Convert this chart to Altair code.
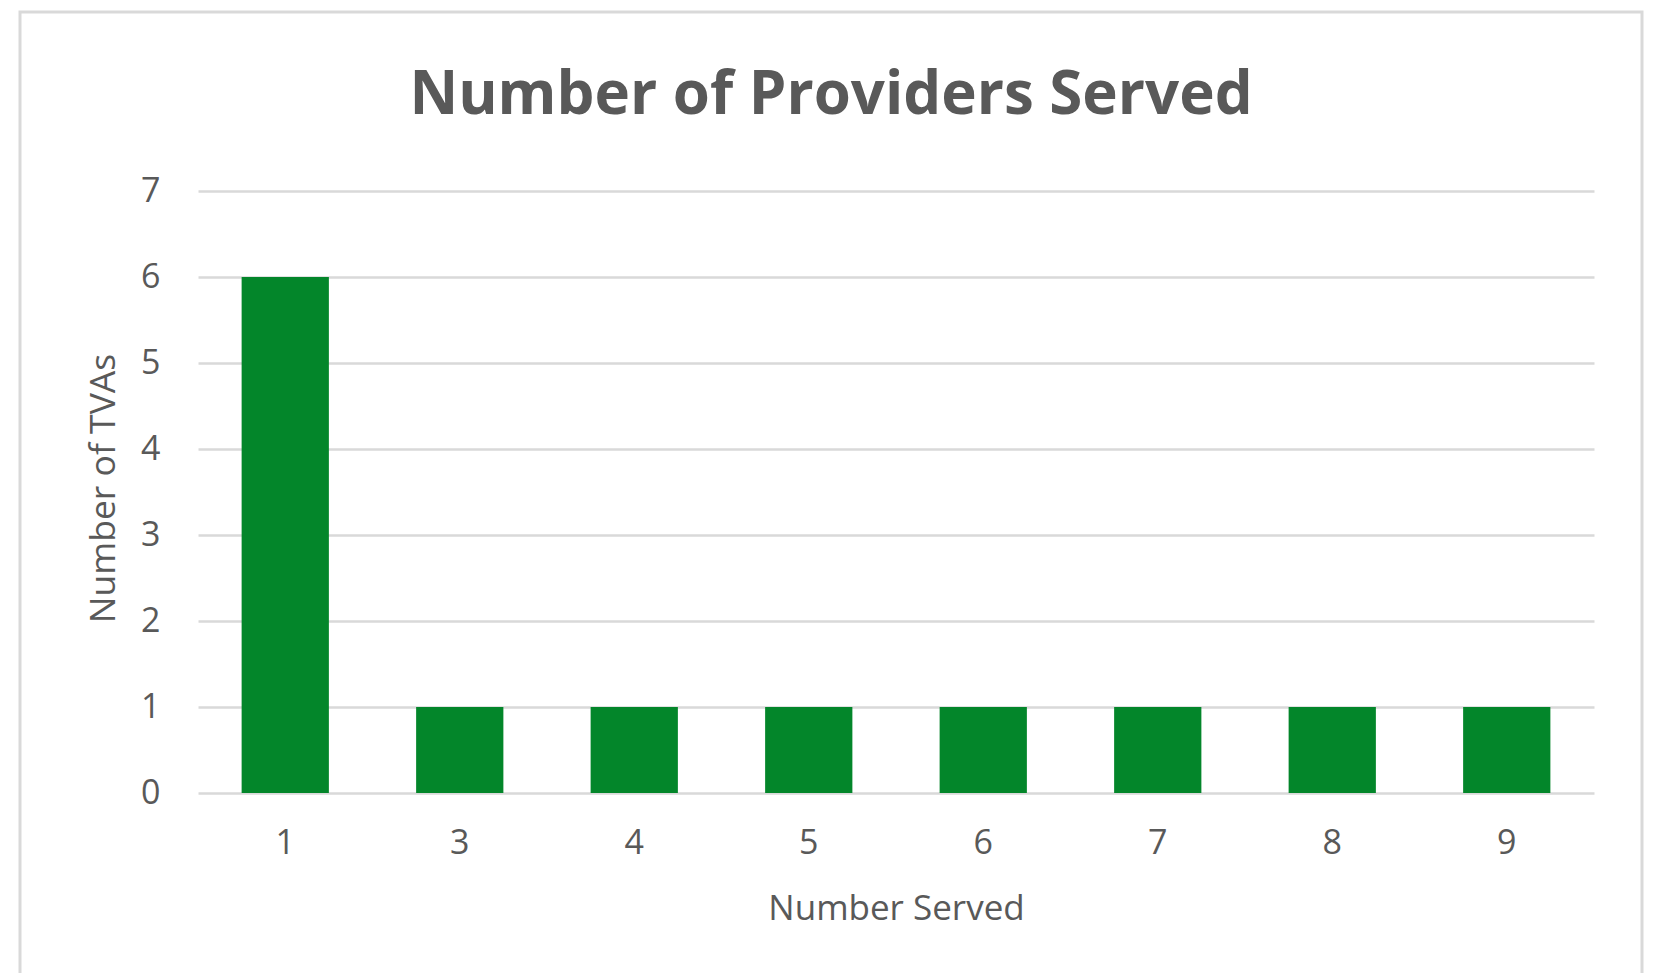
import altair as alt
import pandas as pd

categories = ["1", "3", "4", "5", "6", "7", "8", "9"]
counts = [6, 1, 1, 1, 1, 1, 1, 1]

df = pd.DataFrame({"served": categories, "tvas": counts})

FONT = "Open Sans"
GRAY = "#595959"

frame = alt.Chart(pd.DataFrame({"a": [0]})).mark_rect(
    fill="transparent", stroke="#d9d9d9", strokeWidth=3, clip=False
).encode(
    x=alt.value(-178), x2=alt.value(1444),
    y=alt.value(-179), y2=alt.value(820)
)

x_enc = alt.X("served:N", sort=categories,
              scale=alt.Scale(paddingInner=0.5, paddingOuter=0.25),
              axis=alt.Axis(title="Number Served", labelAngle=0, labelFontSize=34,
                            labelColor=GRAY, labelFont=FONT, labelPadding=33,
                            ticks=False, domain=False,
                            titleFontSize=35, titleFont=FONT, titleColor=GRAY,
                            titleFontWeight="normal", titleY=115, titleBaseline="middle"))
y_enc = alt.Y("tvas:Q", scale=alt.Scale(domain=[0, 7]),
              axis=alt.Axis(title="Number of TVAs", values=list(range(0, 8)),
                            labelFontSize=34, labelColor=GRAY, labelFont=FONT,
                            labelPadding=38, ticks=False, domain=False,
                            gridColor="#d9d9d9", gridWidth=2.5,
                            titleFontSize=35.5, titleFont=FONT, titleColor=GRAY,
                            titleFontWeight="normal", titleX=-95, titleY=297,
                            titleAngle=-90, titleBaseline="middle", titleAlign="center"))

shadow1 = alt.Chart(df).mark_bar(color="black", opacity=0.05,
                                 width=alt.RelativeBandSize(0.6)).encode(x=x_enc, y=y_enc)
shadow2 = alt.Chart(df).mark_bar(color="black", opacity=0.06,
                                 width=alt.RelativeBandSize(0.55)).encode(x=x_enc, y=y_enc)
bars = alt.Chart(df).mark_bar(color="#03862A").encode(x=x_enc, y=y_enc)

chart = alt.layer(frame, shadow1, shadow2, bars).properties(
    width=1396, height=602,
    title=alt.TitleParams("Number of Providers Served", fontSize=60, font=FONT,
                          fontWeight="bold", color=GRAY, anchor="middle",
                          baseline="middle", dx=-65, dy=145, offset=0),
    autosize=alt.AutoSizeParams(type="none"),
    padding={"left": 190, "top": 183, "right": 55, "bottom": 180},
).configure_view(stroke=None)

chart.save("out.html", embed_options={"renderer": "svg", "actions": False})
